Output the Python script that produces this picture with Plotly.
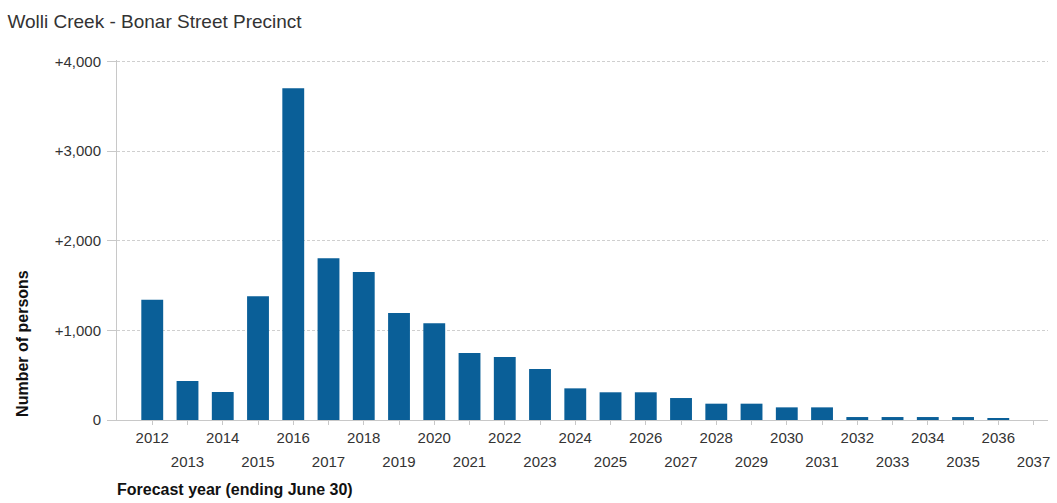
import plotly.graph_objects as go

years = list(range(2012, 2038))
values = [1340, 435, 312, 1380, 3700, 1805, 1650, 1192, 1080, 746, 702, 568,
          353, 309, 309, 245, 182, 182, 141, 141, 33, 33, 33, 33, 15, 0]
y_ticks = [0, 1000, 2000, 3000, 4000]
y_tick_text = ["0", "+1,000", "+2,000", "+3,000", "+4,000"]
even_years = [y for y in years if y % 2 == 0]
odd_years = [y for y in years if y % 2 == 1]

FONT = "Liberation Sans, Arial, sans-serif"
BAR = "#0a5f98"
TXT = "#333333"

fig = go.Figure()
fig.add_trace(go.Bar(x=years, y=values, marker=dict(color=BAR, line=dict(width=0)),
                     width=0.62, showlegend=False, hoverinfo="x+y"))
fig.add_trace(go.Scatter(x=[years[0]], y=[0], xaxis="x2", mode="markers",
                         marker=dict(opacity=0), showlegend=False, hoverinfo="skip"))

fig.update_layout(
    width=1057, height=503,
    margin=dict(l=117, r=7, t=60, b=83),
    paper_bgcolor="white", plot_bgcolor="white",
    font=dict(family=FONT, size=15, color=TXT),
    title=dict(text="Wolli Creek - Bonar Street Precinct", x=0.007, xanchor="left",
               y=0.958, yanchor="middle", font=dict(size=19, color=TXT)),
    xaxis=dict(range=[2011, 2037.41], tickmode="array", tickvals=even_years,
               ticktext=[str(y) for y in even_years], showgrid=False, zeroline=False,
               showline=True, linecolor="#c8c8c8", ticks="outside", ticklen=4,
               tickcolor="#c8c8c8", ticklabelstandoff=0,
               tickfont=dict(size=15, color=TXT)),
    xaxis2=dict(overlaying="x", matches="x", anchor="y", side="bottom",
                tickmode="array", tickvals=odd_years, ticktext=[str(y) for y in odd_years],
                showgrid=False, zeroline=False, showline=False, ticks="outside",
                ticklen=4, tickcolor="#c8c8c8", ticklabelstandoff=24,
                tickfont=dict(size=15, color=TXT)),
    yaxis=dict(range=[0, 4015], tickmode="array", tickvals=y_ticks, ticktext=y_tick_text,
               showgrid=True, gridcolor="#cfcfcf", griddash="3px,2px", gridwidth=1,
               zeroline=False, showline=True, linecolor="#c8c8c8", ticks="outside",
               ticklen=9, tickcolor="#c8c8c8", ticklabelstandoff=3,
               tickfont=dict(size=15, color=TXT)),
    annotations=[
        dict(text="<b>Number of persons</b>", textangle=-90, xref="paper", yref="paper",
             x=-0.101, y=0.214, xanchor="center", yanchor="middle", showarrow=False,
             font=dict(size=16, color="#111111")),
        dict(text="<b>Forecast year (ending June 30)</b>", xref="paper", yref="paper",
             x=-0.002, y=-0.192, xanchor="left", yanchor="middle", showarrow=False,
             font=dict(size=16, color="#111111")),
    ],
)

fig.write_html("out.html", config={"displayModeBar": False},
               post_script="document.body.style.margin='0px';")
